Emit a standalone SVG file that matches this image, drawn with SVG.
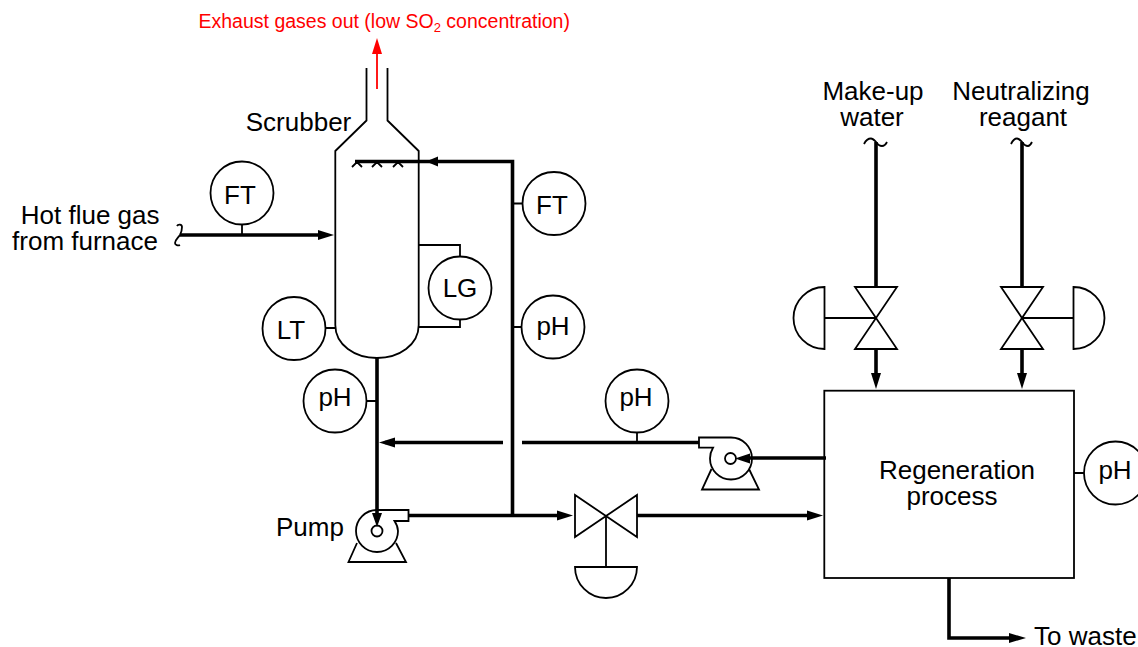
<svg xmlns="http://www.w3.org/2000/svg" width="1138" height="647" viewBox="0 0 1138 647">
<style>
.s{fill:none;stroke:#000;stroke-width:1.8}
.i{fill:#fff;stroke:#000;stroke-width:1.8}
.p{fill:none;stroke:#000;stroke-width:3.6}
.a{fill:#000;stroke:none}
text{font-family:"Liberation Sans",Arial,sans-serif;font-size:26px;fill:#000;text-anchor:middle}
.l{text-anchor:start}
.r{text-anchor:end}
</style>
<rect width="1138" height="647" fill="#fff"/>
<g id="connectors">
<path class="p" d="M180 235H322"/>
<path class="a" d="M334 235L318 230V240Z"/>
<path class="p" d="M355 161.500H512.500V515"/>
<path class="a" d="M426 161.500L438 156.500V166.500Z"/>
<path class="p" d="M377 358V515"/>
<path class="a" d="M377 527L372 513H382Z"/>
<path class="p" d="M503 442.500H385"/>
<path class="a" d="M379 442.500L395 437.500V447.500Z"/>
<path class="p" d="M522 442.500H699"/>
<path class="p" d="M408 515.500H560"/>
<path class="a" d="M573 515.500L557 510.500V520.500Z"/>
<path class="p" d="M637 515.500H810"/>
<path class="a" d="M823 515.500L807 510.500V520.500Z"/>
<path class="p" d="M826 458H745"/>
<path class="a" d="M735 458.500L750 453.500V463.500Z"/>
<path class="p" d="M876 142V287M876 349V378"/>
<path class="a" d="M876 389L871 373H881Z"/>
<path class="p" d="M1022 142V287M1022 349V378"/>
<path class="a" d="M1022 389L1017 373H1027Z"/>
<path class="p" d="M949 578V638H1012"/>
<path class="a" d="M1026 638L1009 633V643Z"/>
<path fill="none" stroke="#f00" stroke-width="1.800" d="M377 89V50"/>
<path fill="#f00" d="M377 38L372 54H382Z"/>
<path class="s" d="M512.500 203.500H523M512.500 327H522M377 401H367M637 433V442M242 225V235M1074 473H1084M335 328H325"/>
<path class="s" d="M177 226C178 224 182 224 182 227C182 231 181 233 180 235C178 238 175 240 175 243C175 245 178 246 180 245"/>
<path class="s" d="M864 144C866 140 868 138.500 871 138.500C873 138.500 875 141 876 142C878 145 880 146 882 146C884 146 886 144 887 142"/>
<path class="s" d="M1011 144C1013 140 1015 138.500 1017 138.500C1019 138.500 1021 141 1022 142C1024 145 1026 146 1028 146C1030 146 1031 144 1032 142"/>
</g>
<g id="scrubber">
<path class="s" d="M366.500 68V120.500L335.300 151V325C335.300 345 355 358 377 358C399 358 418.700 345 418.700 325V151L387.500 120.500V68"/>
<path class="s" d="M352 167L357 162L362 167M372 167L377 162L382 167M393 167L398 162L403 167"/>
<path class="s" d="M419 245H460V257M419 327H460V319"/>
<text x="298.500" y="131">Scrubber</text>
</g>
<g id="ft1"><circle class="i" cx="242" cy="193" r="31.500"/><text x="240" y="204">FT</text></g>
<g id="ft2"><circle class="i" cx="554" cy="203.500" r="31.500"/><text x="552" y="214">FT</text></g>
<g id="ph1"><circle class="i" cx="553" cy="327" r="31.500"/><text x="553" y="335">pH</text></g>
<g id="lg"><circle class="i" cx="460" cy="288" r="31.500"/><text x="460" y="297">LG</text></g>
<g id="lt"><circle class="i" cx="294" cy="328.500" r="31.500"/><text x="291" y="339">LT</text></g>
<g id="ph2"><circle class="i" cx="335" cy="401" r="31.500"/><text x="335" y="406">pH</text></g>
<g id="ph3"><circle class="i" cx="637" cy="401" r="31.500"/><text x="636" y="406">pH</text></g>
<g id="ph4"><circle class="i" cx="1115.500" cy="473" r="31.500"/><text x="1115" y="479">pH</text></g>
<g id="pump1">
<path class="s" d="M394.500 521H408.500V510H377A21 21 0 1 0 398 531C398 527 396.500 524 394.500 521Z"/>
<circle class="s" cx="377" cy="531" r="5.500"/>
<path class="s" d="M357 543L348.500 562H406L396 543"/>
<text x="310" y="536">Pump</text>
</g>
<g id="pump2">
<path class="s" d="M713 447.700H699V437.500H731A21 21 0 1 1 710 458.500C710 454 711 451 713 447.700Z"/>
<circle class="s" cx="730.500" cy="458.500" r="5.500"/>
<path class="s" d="M711.500 469L702 489.500H759L749 469"/>
</g>
<g id="valve1">
<path class="s" d="M575 495V537L637 495V537Z"/>
<path class="s" d="M606 516V567"/>
<path class="s" d="M575 567H637A31 31 0 0 1 575 567Z"/>
</g>
<g id="valve2">
<path class="s" d="M855 287H897L855 349H897Z"/>
<path class="s" d="M824.500 318H876"/>
<path class="s" d="M824.500 287V349A31 31 0 0 1 824.500 287Z"/>
</g>
<g id="valve3">
<path class="s" d="M1001 287H1043L1001 349H1043Z"/>
<path class="s" d="M1022 318H1073.500"/>
<path class="s" d="M1073.500 287V349A31 31 0 0 0 1073.500 287Z"/>
</g>
<g id="regen">
<rect class="s" x="824.300" y="390.700" width="249.700" height="187.300"/>
<text x="957" y="479">Regeneration</text>
<text x="952" y="505">process</text>
</g>
<text x="873" y="100">Make-up</text>
<text x="872" y="126">water</text>
<text x="1021" y="100">Neutralizing</text>
<text x="1023" y="126">reagant</text>
<text class="r" x="159.500" y="224">Hot flue gas</text>
<text class="r" x="158" y="250">from furnace</text>
<text class="l" x="1034" y="645">To waste</text>
<text class="l" x="198.500" y="27.500" style="font-size:19.500px;fill:#f00">Exhaust gases out (low SO<tspan dy="4" style="font-size:13px">2</tspan><tspan dy="-4"> concentration)</tspan></text>
</svg>
